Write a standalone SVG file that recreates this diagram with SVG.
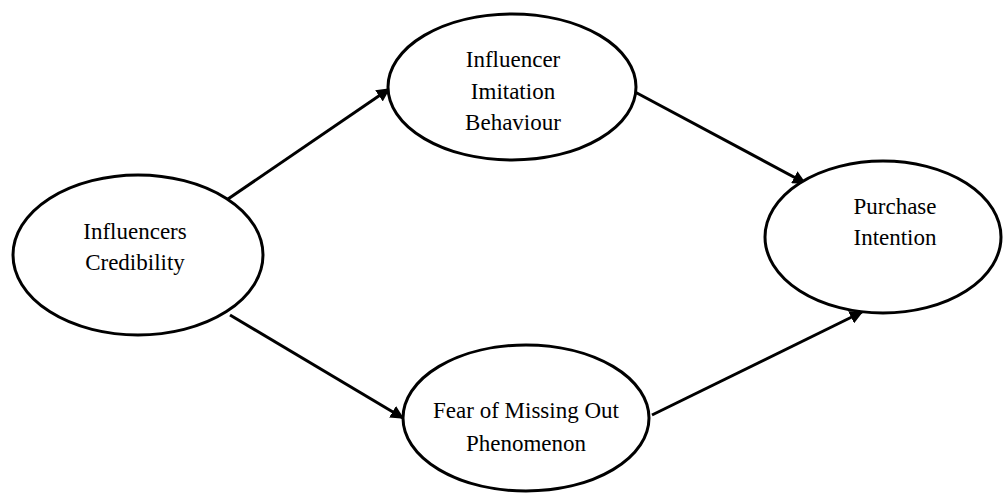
<svg xmlns="http://www.w3.org/2000/svg" width="1003" height="495" viewBox="0 0 1003 495">
<style>
.node ellipse{fill:#fff;stroke:#000;stroke-width:3}
.node text{font-family:"Times New Roman",Times,"Liberation Serif","DejaVu Serif","Noto Serif",serif;font-size:23px;fill:#000;text-anchor:middle}
.conn line{stroke:#000;stroke-width:3}
</style>
<defs>
<marker id="ah" viewBox="0 0 10 10" refX="9" refY="5" markerWidth="4.5" markerHeight="4.5" orient="auto" markerUnits="strokeWidth">
<path d="M0,0 L10,5 L0,10 z" fill="#000"/>
</marker>
</defs>
<rect width="1003" height="495" fill="#fff"/>
<g id="connectors" class="conn">
<line x1="228" y1="199" x2="389" y2="89" marker-end="url(#ah)"/>
<line x1="230" y1="315" x2="403" y2="418" marker-end="url(#ah)"/>
<line x1="635" y1="92" x2="805" y2="183" marker-end="url(#ah)"/>
<line x1="652" y1="415" x2="862" y2="312" marker-end="url(#ah)"/>
</g>
<g id="n1" class="node">
<ellipse cx="138" cy="255" rx="125" ry="80"/>
<text x="135" y="239">Influencers</text>
<text x="135" y="270">Credibility</text>
</g>
<g id="n2" class="node">
<ellipse cx="512" cy="87" rx="124" ry="73"/>
<text x="513" y="67">Influencer</text>
<text x="513" y="99">Imitation</text>
<text x="513" y="130">Behaviour</text>
</g>
<g id="n3" class="node">
<ellipse cx="526" cy="418" rx="123" ry="73"/>
<text x="526" y="418">Fear of Missing Out</text>
<text x="526" y="451">Phenomenon</text>
</g>
<g id="n4" class="node">
<ellipse cx="883" cy="237" rx="118" ry="76"/>
<text x="895" y="214">Purchase</text>
<text x="895" y="245">Intention</text>
</g>
</svg>
